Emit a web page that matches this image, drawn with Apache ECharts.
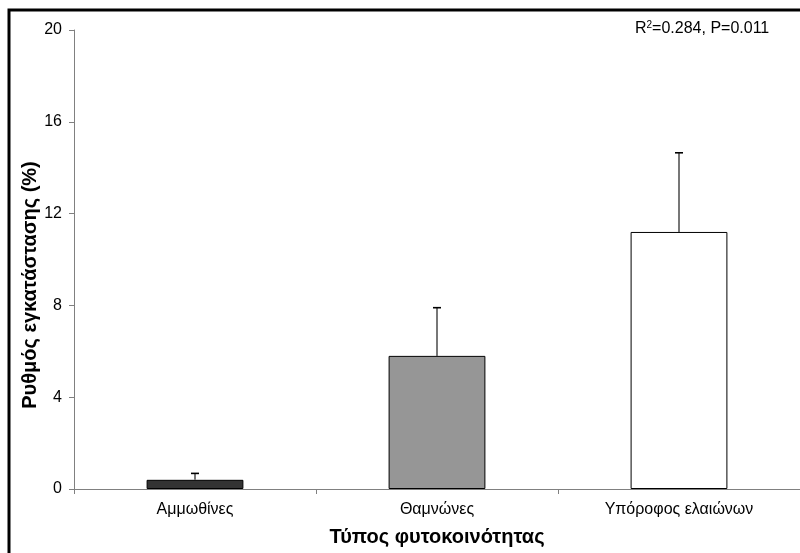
<!DOCTYPE html>
<html>
<head>
<meta charset="utf-8">
<script src="https://cdn.jsdelivr.net/npm/echarts@6/dist/echarts.min.js"></script>
<style>html,body{margin:0;padding:0;background:#fff;}#c{width:800px;height:553px;}</style>
</head>
<body>
<div id="c"></div>
<script>
const categories = ['Αμμωθίνες', 'Θαμνώνες', 'Υπόροφος ελαιώνων'];
const values = [0.4, 5.8, 11.2];
const errors = [0.28, 2.1, 3.45];
const barColors = ['#333333', '#969696', '#ffffff'];
const yTicks = [0, 4, 8, 12, 16, 20];

const chart = echarts.init(document.getElementById('c'), null, {renderer: 'canvas'});
const font = '"Liberation Sans", Arial, sans-serif';

chart.setOption({
  animation: false,
  backgroundColor: '#ffffff',
  grid: {left: 74, right: -6, top: 30, bottom: 64, containLabel: false},
  xAxis: {
    type: 'category',
    data: categories,
    boundaryGap: true,
    axisLine: {lineStyle: {color: '#808080', width: 1}},
    axisTick: {show: true, alignWithLabel: false, length: 5, lineStyle: {color: '#808080'}},
    axisLabel: {color: '#000', fontSize: 16, fontFamily: font, margin: 13},
    name: 'Τύπος φυτοκοινότητας',
    nameLocation: 'middle',
    nameGap: 38,
    nameTextStyle: {color: '#000', fontSize: 20, fontWeight: 'bold', fontFamily: font}
  },
  yAxis: {
    type: 'value',
    min: 0, max: 20, interval: 4,
    axisLine: {show: true, lineStyle: {color: '#808080', width: 1}},
    axisTick: {show: true, length: 5, lineStyle: {color: '#808080'}},
    axisLabel: {color: '#000', fontSize: 16, fontFamily: font, margin: 12,
      formatter: v => yTicks.includes(v) ? String(v) : ''},
    splitLine: {show: false}
  },
  series: [
    {
      type: 'bar',
      barWidth: '40%',
      data: values.map((v, i) => ({value: v, itemStyle: {color: barColors[i]}})),
      itemStyle: {borderColor: '#000', borderWidth: 1},
      z: 2
    },
    {
      type: 'custom',
      z: 3,
      renderItem: function (params, api) {
        const i = api.value(0);
        const v = api.value(1);
        const e = api.value(2);
        const p0 = api.coord([i, v]);
        const p1 = api.coord([i, v + e]);
        return {
          type: 'group',
          children: [
            {type: 'line', shape: {x1: p0[0], y1: p0[1], x2: p1[0], y2: p1[1]}, style: {stroke: '#555555', lineWidth: 1.6}},
            {type: 'line', shape: {x1: p1[0] - 4, y1: p1[1], x2: p1[0] + 4, y2: p1[1]}, style: {stroke: '#000', lineWidth: 1.6}}
          ]
        };
      },
      data: values.map((v, i) => [i, v, errors[i]])
    }
  ],
  graphic: [
    {type: 'rect', shape: {x: 9, y: 10, width: 820, height: 570}, style: {fill: 'none', stroke: '#000', lineWidth: 3}, z: 10},
    {type: 'text', x: 30, y: 285, rotation: Math.PI / 2,
      style: {text: 'Ρυθμός εγκατάστασης (%)', fill: '#000', font: 'bold 20px ' + font, align: 'center', verticalAlign: 'middle'}},
    {type: 'text', x: 635, y: 29,
      style: {
        text: '{b|R}{s|2}{b|=0.284, P=0.011}',
        align: 'left', verticalAlign: 'middle',
        rich: {
          b: {fontSize: 16, fontFamily: font, fill: '#000', color: '#000'},
          s: {fontSize: 10, fontFamily: font, fill: '#000', color: '#000', verticalAlign: 'top', padding: [0, 0, 8, 0]}
        }
      }}
  ]
});
</script>
</body>
</html>
